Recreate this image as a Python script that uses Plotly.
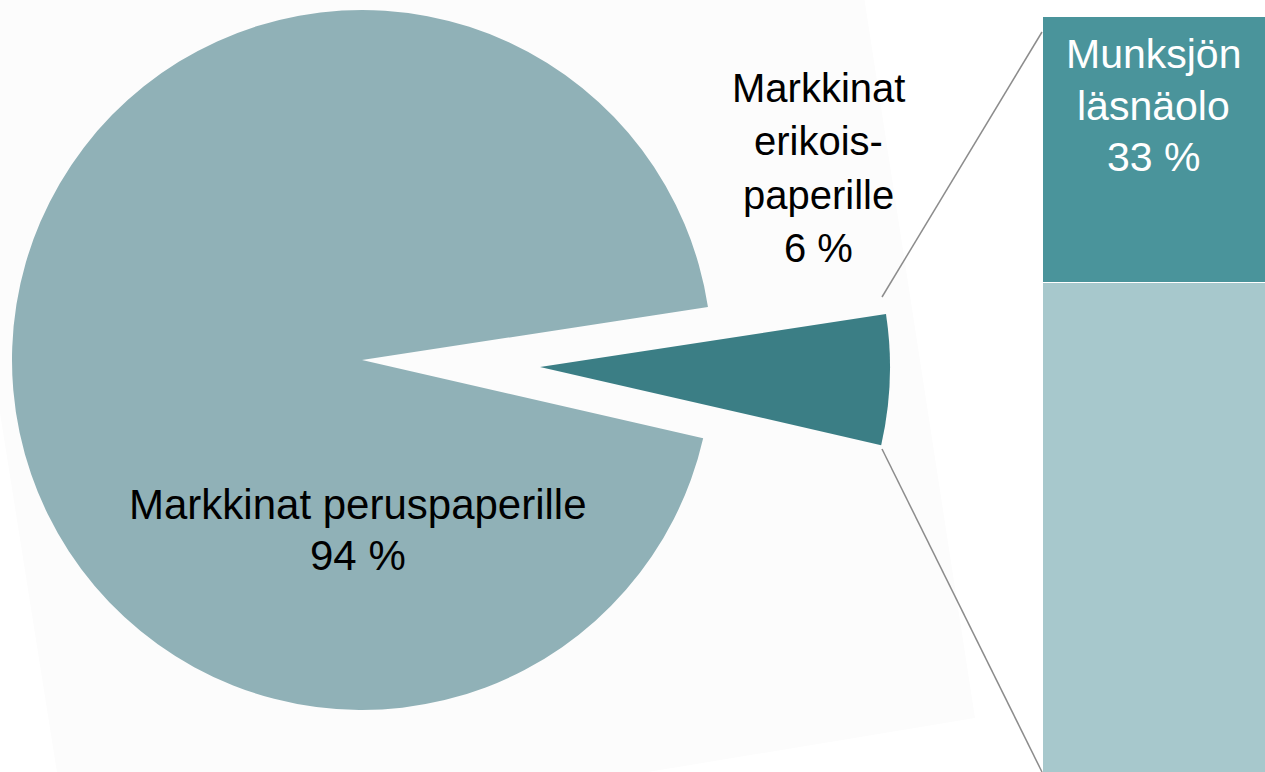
import plotly.graph_objects as go

# ---------------- data ----------------
pie_labels = ["Markkinat erikoispaperille", "Markkinat peruspaperille"]
pie_values = [6, 94]
bar_labels = ["Muut", "Munksjön läsnäolo"]
bar_values = [67, 33]

label_big = ["Markkinat peruspaperille", "94 %"]
label_small = ["Markkinat", "erikois-", "paperille", "6 %"]
label_bar = ["Munksjön", "läsnäolo", "33 %"]

# ---------------- layout constants (pixels) ----------------
W, H = 1265, 772
R = 350                      # pie radius
C_BIG = (362, 360)           # centre of main pie
C_SMALL = (540, 367)         # centre (apex) of exploded slice
ROT = 81.3                   # start angle of first slice, clockwise from 12 o'clock

COL_BIG = "#90B1B7"
COL_SMALL = "#3B7E85"
COL_BAR_TOP = "#4A949B"
COL_BAR_BOT = "#A7C8CC"
TRANSP = "rgba(0,0,0,0)"
FONT = "Liberation Sans, Arial, sans-serif"


def px(x):
    return x / W


def py(y):
    return 1 - y / H


def dom(c):
    return dict(x=[px(c[0] - R), px(c[0] + R)], y=[py(c[1] + R), py(c[1] - R)])


fig = go.Figure()

# main pie (exploded slice transparent)
fig.add_trace(go.Pie(
    labels=pie_labels, values=pie_values, sort=False, direction="clockwise",
    rotation=ROT, domain=dom(C_BIG), textinfo="none", showlegend=False,
    marker=dict(colors=[TRANSP, COL_BIG], line=dict(width=0)),
    hoverinfo="label+percent",
))
# exploded slice (rest transparent)
fig.add_trace(go.Pie(
    labels=pie_labels, values=pie_values, sort=False, direction="clockwise",
    rotation=ROT, domain=dom(C_SMALL), textinfo="none", showlegend=False,
    marker=dict(colors=[COL_SMALL, TRANSP], line=dict(width=0)),
    hoverinfo="label+percent",
))

# stacked bar
BAR_LEFT, BAR_RIGHT = 1042, 1300
BAR_TOP, BAR_SPLIT = 16, 282
for lab, val, col in zip(bar_labels, bar_values, [COL_BAR_BOT, COL_BAR_TOP]):
    fig.add_trace(go.Bar(
        x=[0], y=[val], name=lab, width=1, showlegend=False,
        marker=dict(color=col, line=dict(color="white", width=1)),
        hovertemplate=lab + ": %{y} %<extra></extra>",
    ))

sx = (BAR_RIGHT - BAR_LEFT) / 1.0
x_left = -0.5 - BAR_LEFT / sx
xr = [x_left, x_left + W / sx]
sy = (BAR_SPLIT - BAR_TOP) / bar_values[1]
total = sum(bar_values)
yr = [total - (H - BAR_TOP) / sy, total + BAR_TOP / sy]

# faint rotated backdrop + connector lines
shapes = [
    dict(type="path", xref="paper", yref="paper", layer="below",
         path="M {} {} L {} {} L {} {} L {} {} Z".format(
             px(-67), py(-10), px(863), py(-10), px(975), py(718), px(72), py(867)),
         fillcolor="#FCFCFC", line=dict(width=0)),
    dict(type="line", xref="paper", yref="paper",
         x0=px(882), y0=py(297), x1=px(BAR_LEFT), y1=py(32),
         line=dict(color="#8C8C8C", width=1.5)),
    dict(type="line", xref="paper", yref="paper",
         x0=px(882), y0=py(449), x1=px(BAR_LEFT), y1=py(772),
         line=dict(color="#8C8C8C", width=1.5)),
]


def line_annots(lines, cx, baselines, fs, color):
    out = []
    for t, b in zip(lines, baselines):
        out.append(dict(text=t, x=px(cx), y=py(b - 0.347 * fs), xref="paper", yref="paper",
                        showarrow=False, xanchor="center", yanchor="middle", align="center",
                        font=dict(family=FONT, size=fs, color=color)))
    return out


annotations = (
    line_annots(label_big, 358, [519.5, 570.5], 42, "black")
    + line_annots(label_small, 818, [101.5, 155, 208.5, 262], 40, "black")
    + line_annots(label_bar, 1153, [68.5, 120, 171.5], 41, "white")
)

fig.update_layout(
    width=W, height=H, margin=dict(l=0, r=0, t=0, b=0),
    paper_bgcolor="white", plot_bgcolor="rgba(0,0,0,0)",
    barmode="stack", barcornerradius=3,
    xaxis=dict(range=xr, visible=False, fixedrange=True),
    yaxis=dict(range=yr, visible=False, fixedrange=True),
    shapes=shapes, annotations=annotations,
    font=dict(family=FONT),
)

fig.write_html("out.html")
